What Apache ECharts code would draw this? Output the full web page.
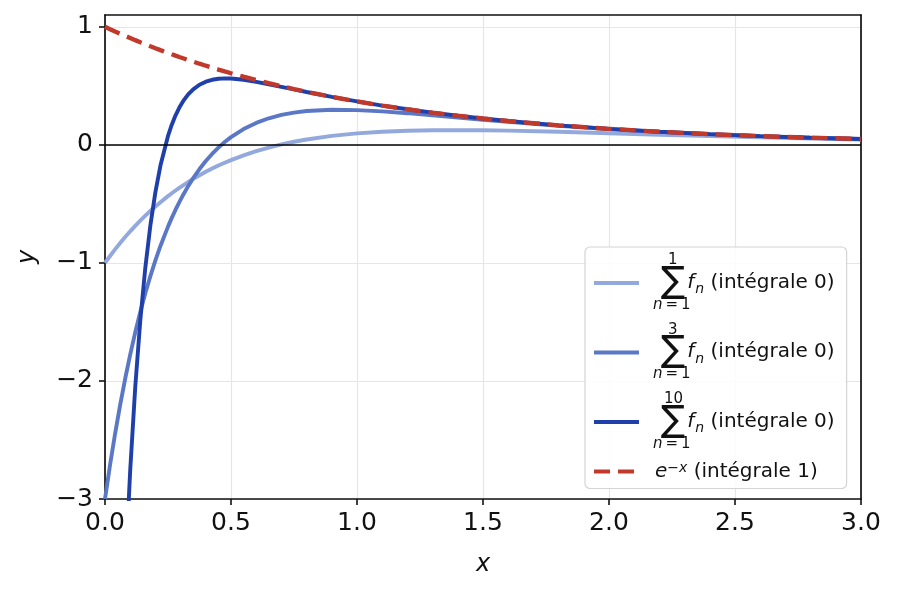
<!DOCTYPE html>
<html>
<head>
	<meta charset="utf-8">
	<title>Sommes partielles</title>
	<script src="https://cdn.jsdelivr.net/npm/echarts@6/dist/echarts.min.js"></script>
	<style>
		html, body { margin: 0; padding: 0; background: #fff; }
		#main { width: 897px; height: 592px; }
	</style>
</head>
<body>
<div id="main"></div>
<script>
	// abscisses communes
	var xs = [0, 0.02, 0.04, 0.06, 0.08, 0.10, 0.12, 0.14, 0.16, 0.18, 0.20, 0.22, 0.25, 0.265, 0.28, 0.295,
		0.31, 0.33, 0.35, 0.375, 0.40, 0.425, 0.45, 0.475, 0.50, 0.55, 0.60, 0.65, 0.70, 0.75, 0.80, 0.90,
		1.0, 1.1, 1.2, 1.3, 1.4, 1.5, 1.6, 1.8, 2.0, 2.2, 2.4, 2.6, 2.8, 3.0];
	// somme n=1..1
	var s1 = [-1, -0.9414, -0.8854, -0.8321, -0.7812, -0.7326, -0.6863, -0.6422, -0.6001, -0.5601, -0.5219,
		-0.4856, -0.4343, -0.4100, -0.3866, -0.3641, -0.3424, -0.3148, -0.2885, -0.2574, -0.2283, -0.2011,
		-0.1755, -0.1516, -0.1292, -0.0888, -0.0536, -0.0230, 0.0034, 0.0261, 0.0455, 0.0760, 0.0972,
		0.1113, 0.1198, 0.1240, 0.1250, 0.1236, 0.1204, 0.1107, 0.0987, 0.0862, 0.0743, 0.0632, 0.0534, 0.0448];
	// somme n=1..3
	var s3 = [-3, -2.7123, -2.4478, -2.2047, -1.9815, -1.7765, -1.5882, -1.4155, -1.2570, -1.1118, -0.9786,
		-0.8566, -0.6927, -0.6186, -0.5493, -0.4846, -0.4241, -0.3496, -0.2817, -0.2052, -0.1373, -0.0770,
		-0.0236, 0.0236, 0.0652, 0.1337, 0.1859, 0.2250, 0.2533, 0.2732, 0.2863, 0.2973, 0.2946,
		0.2838, 0.2683, 0.2505, 0.2318, 0.2132, 0.1953, 0.1623, 0.1340, 0.1102, 0.0904, 0.0741, 0.0608, 0.0498];
	// somme n=1..10
	var s10 = [-10, -7.8475, -6.1236, -4.7436, -3.6395, -2.7568, -2.0515, -1.4889, -1.0404, -0.6835, -0.4001,
		-0.1756, 0.0756, 0.1710, 0.2502, 0.3159, 0.3700, 0.4272, 0.4706, 0.5095, 0.5353, 0.5512, 0.5597,
		0.5627, 0.5616, 0.5510, 0.5338, 0.5134, 0.4916, 0.4695, 0.4477, 0.4060, 0.3677,
		0.3328, 0.3012, 0.2725, 0.2466, 0.2231, 0.2019, 0.1653, 0.1353, 0.1108, 0.0907, 0.0743, 0.0608, 0.0498];
	// e^{-x}
	var expNeg = [1, 0.9802, 0.9608, 0.9418, 0.9231, 0.9048, 0.8869, 0.8694, 0.8521, 0.8353, 0.8187, 0.8025,
		0.7788, 0.7672, 0.7558, 0.7445, 0.7335, 0.7189, 0.7047, 0.6873, 0.6703, 0.6538, 0.6376, 0.6219,
		0.6065, 0.5770, 0.5488, 0.5221, 0.4966, 0.4724, 0.4493, 0.4066, 0.3679,
		0.3329, 0.3012, 0.2725, 0.2466, 0.2231, 0.2019, 0.1653, 0.1353, 0.1108, 0.0907, 0.0743, 0.0608, 0.0498];

	var xTicks = [0, 0.5, 1.0, 1.5, 2.0, 2.5, 3.0];
	var yTicks = [-3, -2, -1, 0, 1];

	var font = 'DejaVu Sans';

	function pairs(ys) {
		return xs.map(function(x, i) { return [x, ys[i]]; });
	}

	// indice du haut : 1 chiffre -> a1, 2 chiffres -> a2 (décalage différent)
	function sumLabel(top) {
		var st = String(top).length > 1 ? 'a2' : 'a1';
		return '{' + st + '|' + top + '}\n{s|\u2211}{f|f}{n|n}{t| (intégrale 0)}\n{bn|n}{bt|\u2009=\u20091}';
	}

	var names = ['s1', 's3', 's10', 'exp'];
	var legendText = {
		s1: sumLabel(1),
		s3: sumLabel(3),
		s10: sumLabel(10),
		exp: '{e|e}{x|\u2212x}{t| (intégrale 1)}'
	};

	// cadre haut / droite
	var frameAxis = {
		show: true,
		axisLine: { show: true, onZero: false, lineStyle: { color: '#111', width: 1.7 } },
		axisTick: { show: false }, axisLabel: { show: false }, splitLine: { show: false }
	};

	var myChart = echarts.init(document.getElementById('main'), null, {renderer: 'canvas'});

	var option = {
		animation: false,
		backgroundColor: '#fff',
		textStyle: { fontFamily: font },
		grid: { left: 105, right: 36, top: 15, bottom: 93 },
		xAxis: [{
			type: 'value', min: 0, max: 3, position: 'bottom',
			name: 'x', nameLocation: 'middle', nameGap: 54,
			nameTextStyle: { fontFamily: font, fontSize: 24, fontStyle: 'italic', color: '#111' },
			axisLine: { show: true, onZero: false, lineStyle: { color: '#111', width: 1.7 } },
			axisTick: { show: true, length: 6, lineStyle: { color: '#111', width: 1.6 }, customValues: xTicks },
			axisLabel: {
				fontFamily: font, fontSize: 25, color: '#111', margin: 12, customValues: xTicks,
				formatter: function(v) { return v.toFixed(1); }
			},
			splitLine: { show: true, lineStyle: { color: '#e6e6e6', width: 1.2 } }
		}, Object.assign({ type: 'value', min: 0, max: 3, position: 'top' }, frameAxis)],
		yAxis: [{
			type: 'value', min: -3, max: 1.1, position: 'left',
			name: 'y', nameLocation: 'middle', nameGap: 65, nameRotate: 90,
			nameTextStyle: { fontFamily: font, fontSize: 24, fontStyle: 'italic', color: '#111' },
			axisLine: { show: true, onZero: false, lineStyle: { color: '#111', width: 1.7 } },
			axisTick: { show: true, length: 6, lineStyle: { color: '#111', width: 1.6 }, customValues: yTicks },
			axisLabel: {
				fontFamily: font, fontSize: 25, color: '#111', margin: 12, customValues: yTicks,
				formatter: function(v) { return String(v).replace('-', '\u2212'); }
			},
			splitLine: { show: true, lineStyle: { color: '#e6e6e6', width: 1.2 } }
		}, Object.assign({ type: 'value', min: -3, max: 1.1, position: 'right' }, frameAxis)],
		legend: {
			orient: 'vertical',
			left: 585, top: 247,
			padding: [6, 12, 7, 7],
			itemGap: 10,
			itemWidth: 45, itemHeight: 14,
			borderColor: '#d4d4d4', borderWidth: 1.2, borderRadius: 5,
			backgroundColor: 'rgba(255,255,255,0.85)',
			itemStyle: { opacity: 0 },
			lineStyle: { width: 4 },
			data: names,
			formatter: function(name) { return legendText[name]; },
			textStyle: {
				fontFamily: font, fontSize: 20, color: '#111',
				rich: {
					a1: { fontSize: 15, lineHeight: 16, padding: [0, 0, 0, 24] },
					a2: { fontSize: 15, lineHeight: 16, padding: [0, 0, 0, 20] },
					s: { fontSize: 36, lineHeight: 28, padding: [0, 2, 0, 17] },
					f: { fontSize: 20, fontStyle: 'italic' },
					n: { fontSize: 14, fontStyle: 'italic', verticalAlign: 'bottom', padding: [0, 0, 0, 1] },
					t: { fontSize: 20 },
					bn: { fontSize: 15, lineHeight: 17, fontStyle: 'italic', padding: [0, 0, 0, 9] },
					bt: { fontSize: 15, lineHeight: 17 },
					e: { fontSize: 20, fontStyle: 'italic', padding: [0, 0, 0, 11] },
					x: { fontSize: 14, fontStyle: 'italic', verticalAlign: 'top' }
				}
			}
		},
		series: [
			{
				name: 's1', type: 'line', data: pairs(s1), showSymbol: false, symbol: 'none',
				clip: true,
				lineStyle: { color: '#93a8dc', width: 3.9 }, itemStyle: { color: '#93a8dc' },
				markLine: {
					silent: true, symbol: ['none', 'none'], label: { show: false },
					lineStyle: { color: '#000', width: 1.5, type: 'solid' },
					data: [{ yAxis: 0 }]
				}
			},
			{
				name: 's3', type: 'line', data: pairs(s3), showSymbol: false, symbol: 'none',
				clip: true,
				lineStyle: { color: '#5b78c6', width: 3.9 }, itemStyle: { color: '#5b78c6' }
			},
			{
				name: 's10', type: 'line', data: pairs(s10), showSymbol: false, symbol: 'none',
				clip: true,
				lineStyle: { color: '#1f3fab', width: 3.9 }, itemStyle: { color: '#1f3fab' }
			},
			{
				name: 'exp', type: 'line', data: pairs(expNeg), showSymbol: false, symbol: 'none',
				clip: true,
				lineStyle: { color: '#c0392b', width: 4.4, type: [16, 8] }, itemStyle: { color: '#c0392b' }
			}
		]
	};

	myChart.setOption(option);
</script>
</body>
</html>
